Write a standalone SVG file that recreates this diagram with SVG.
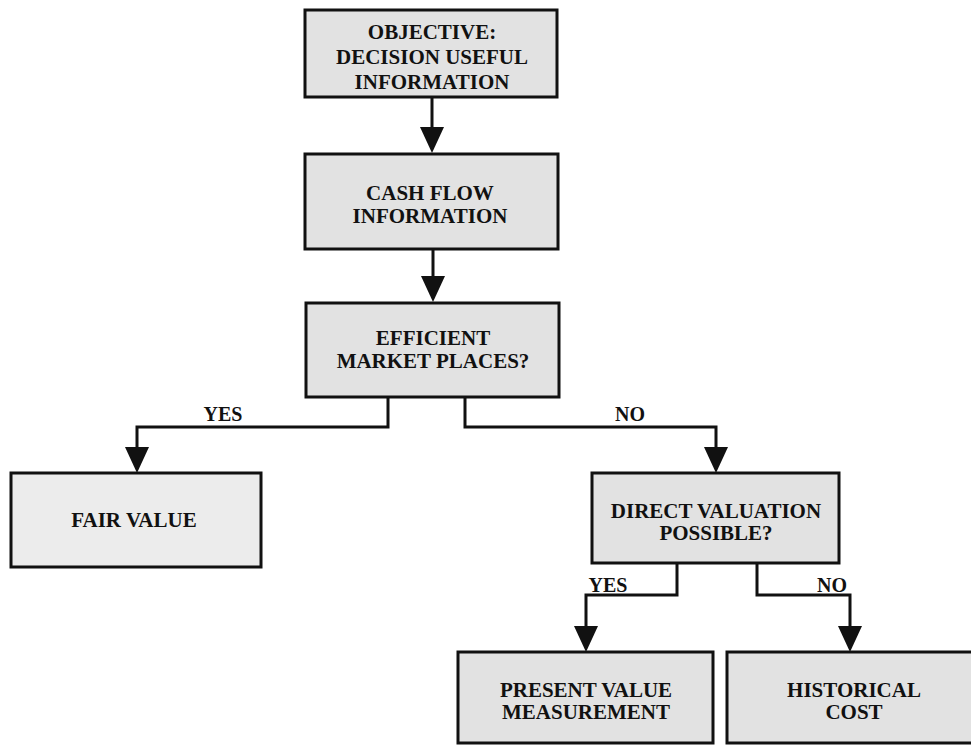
<svg xmlns="http://www.w3.org/2000/svg" width="971" height="745" viewBox="0 0 971 745">
  <style>
    .box { fill: #e2e2e2; stroke: #111; stroke-width: 3; }
    .box.light { fill: #ececec; }
    .lbl { font-family: "Liberation Serif", "Times New Roman", serif; font-weight: bold; font-size: 21px; fill: #111; text-anchor: middle; }
    .tag { font-size: 20px; }
    .wire { fill: none; stroke: #111; stroke-width: 3; stroke-linejoin: miter; }
    .arrow { marker-end: url(#head); }
  </style>
  <defs>
    <marker id="head" markerUnits="userSpaceOnUse" markerWidth="26" markerHeight="24" refX="16" refY="12" orient="auto" viewBox="0 0 26 24">
      <path d="M0,0 L26,12 L0,24 Z" fill="#111"/>
    </marker>
  </defs>

  <rect width="971" height="745" fill="#ffffff"/>

  <!-- connectors -->
  <g id="connectors">
    <path class="wire arrow" d="M432,97 V143"/>
    <path class="wire arrow" d="M433,249 V292"/>
    <path class="wire arrow" d="M388,397 V427 H137 V463"/>
    <path class="wire arrow" d="M465,397 V427 H716 V463"/>
    <path class="wire arrow" d="M677,563 V595 H586 V642"/>
    <path class="wire arrow" d="M757,563 V595 H850 V642"/>
    <text class="lbl tag" x="223" y="421">YES</text>
    <text class="lbl tag" x="630" y="421">NO</text>
    <text class="lbl tag" x="608" y="592">YES</text>
    <text class="lbl tag" x="832" y="592">NO</text>
  </g>

  <!-- nodes -->
  <g id="objective">
    <rect class="box" x="305" y="10" width="252" height="87"/>
    <text class="lbl" x="432" y="39">OBJECTIVE:</text>
    <text class="lbl" x="432" y="64">DECISION USEFUL</text>
    <text class="lbl" x="432" y="89">INFORMATION</text>
  </g>

  <g id="cash-flow">
    <rect class="box" x="305" y="154" width="253" height="95"/>
    <text class="lbl" x="430" y="200">CASH FLOW</text>
    <text class="lbl" x="430" y="223">INFORMATION</text>
  </g>

  <g id="efficient-markets">
    <rect class="box" x="306" y="303" width="253" height="94"/>
    <text class="lbl" x="433" y="345">EFFICIENT</text>
    <text class="lbl" x="433" y="368">MARKET PLACES?</text>
  </g>

  <g id="fair-value">
    <rect class="box light" x="11" y="473" width="250" height="94"/>
    <text class="lbl" x="134" y="527">FAIR VALUE</text>
  </g>

  <g id="direct-valuation">
    <rect class="box" x="592" y="473" width="247" height="90"/>
    <text class="lbl" x="716" y="518">DIRECT VALUATION</text>
    <text class="lbl" x="716" y="540">POSSIBLE?</text>
  </g>

  <g id="present-value">
    <rect class="box" x="458" y="652" width="255" height="91"/>
    <text class="lbl" x="586" y="697">PRESENT VALUE</text>
    <text class="lbl" x="586" y="719">MEASUREMENT</text>
  </g>

  <g id="historical-cost">
    <rect class="box" x="727" y="652" width="260" height="91"/>
    <text class="lbl" x="854" y="697">HISTORICAL</text>
    <text class="lbl" x="854" y="719">COST</text>
  </g>
</svg>
